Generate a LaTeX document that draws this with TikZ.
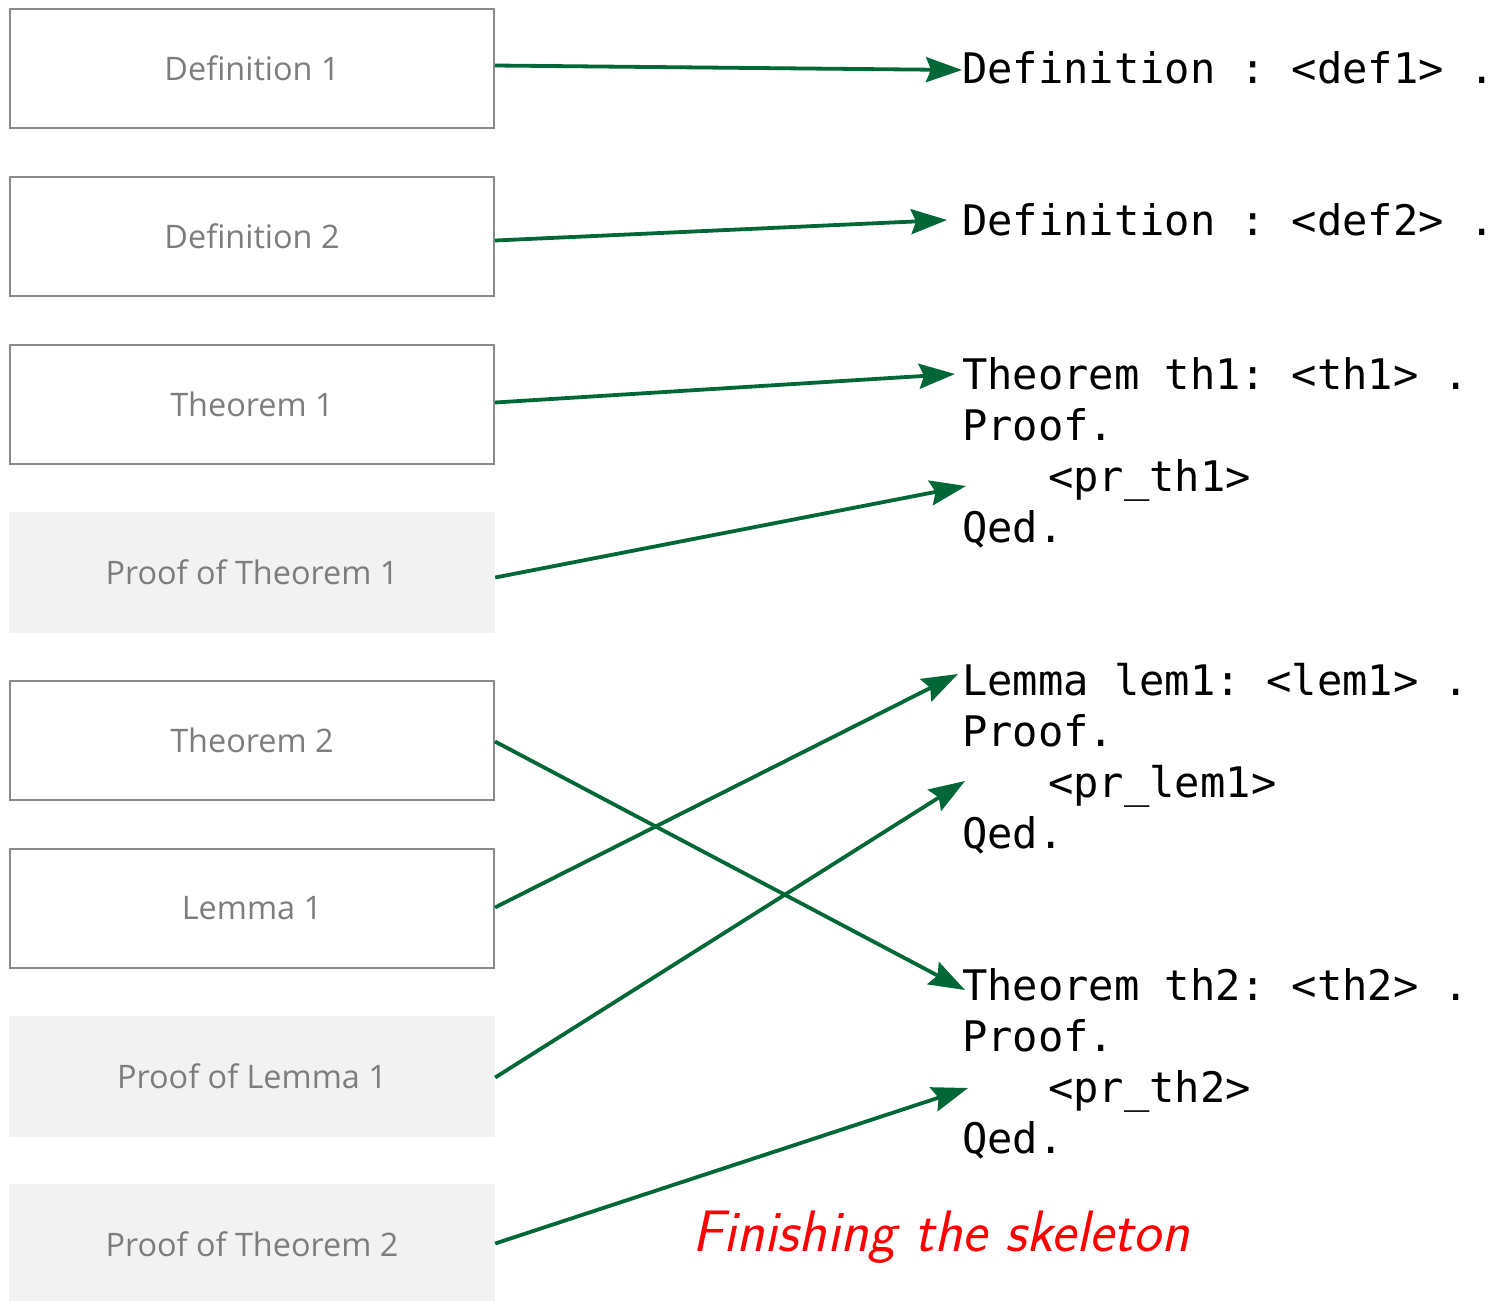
\documentclass[tikz,border=0pt]{standalone}
\usepackage{fontspec}
\setmonofont{DejaVu Sans Mono}
\newfontfamily\boxfont{Open Sans}
\usetikzlibrary{arrows.meta}
\definecolor{arrgreen}{RGB}{0,104,55}
\definecolor{boxgray}{RGB}{138,138,138}
\definecolor{lblgray}{RGB}{125,125,125}
\definecolor{fillgray}{RGB}{242,242,242}
\begin{document}
\begin{tikzpicture}[x=1pt,y=-1pt,
  blk/.style={draw=boxgray,line width=2pt,fill=white,minimum width=484pt,minimum height=119pt,inner sep=0pt,
    font=\boxfont\fontsize{32.4}{38}\selectfont,text=lblgray},
  pfblk/.style={fill=fillgray,minimum width=486pt,minimum height=121pt,inner sep=0pt,
    font=\boxfont\fontsize{32.4}{38}\selectfont,text=lblgray},
  code/.style={anchor=base west,inner sep=0pt,font=\ttfamily\fontsize{42.1}{51}\selectfont},
  arr/.style={draw=arrgreen,line width=3.8pt,-{Stealth[length=36pt,width=25pt,inset=5pt]}}]
\useasboundingbox (0,0) rectangle (1494,1301);
\fill[white] (0,0) rectangle (1494,1301);
% left boxes
\node[blk]   (b1) at (252,68.5)   {Definition 1};
\node[blk]   (b2) at (252,236.5)  {Definition 2};
\node[blk]   (b3) at (252,404.5)  {Theorem 1};
\node[pfblk] (b4) at (252,572.5)  {Proof of Theorem 1};
\node[blk]   (b5) at (252,740.5)  {Theorem 2};
\node[blk]   (b6) at (252,908.5)  {Lemma 1};
\node[pfblk] (b7) at (252,1076.5) {Proof of Lemma 1};
\node[pfblk] (b8) at (252,1244.5) {Proof of Theorem 2};
% code text
\node[code] (d1) at (962,83) {Definition : <def1> .};
\node[code] (d2) at (962,235) {Definition : <def2> .};
\node[code] (t1) at (962,389) {Theorem th1: <th1> .};
\node[code] (t1p) at (962,440) {Proof.};
\node[code] (t1b) at (962,491) {\phantom{xxx}\hspace*{10pt}<pr\_th1>};
\node[code] (t1q) at (962,542) {Qed.};
\node[code] (l1) at (962,695) {Lemma lem1: <lem1> .};
\node[code] (l1p) at (962,746) {Proof.};
\node[code] (l1b) at (962,797) {\phantom{xxx}\hspace*{10pt}<pr\_lem1>};
\node[code] (l1q) at (962,848) {Qed.};
\node[code] (t2) at (962,1000) {Theorem th2: <th2> .};
\node[code] (t2p) at (962,1051) {Proof.};
\node[code] (t2b) at (962,1102) {\phantom{xxx}\hspace*{10pt}<pr\_th2>};
\node[code] (t2q) at (962,1153) {Qed.};
% caption
\node[anchor=base west,inner sep=0pt,text=red,font=\sffamily\itshape\fontsize{58.5}{64}\selectfont] (cap) at (692,1251) {Finishing the skeleton};
% arrows
\draw[arr] ([shift={(0,-3)}]b1.east) -- ([shift={(0,-13)}]d1.base west);
\draw[arr] ([shift={(0,4)}]b2.east) -- ([shift={(-15,-15)}]d2.base west);
\draw[arr] ([shift={(0,-2)}]b3.east) -- ([shift={(-7,-15)}]t1.base west);
\draw[arr] ([shift={(0,5)}]b4.east) -- ([shift={(4,-5)}]t1b.base west);
\draw[arr] ([shift={(0,1)}]b5.east) -- ([shift={(3,-10)}]t2.base west);
\draw[arr] ([shift={(0,-1)}]b6.east) -- ([shift={(-4,-21)}]l1.base west);
\draw[arr] ([shift={(0,1)}]b7.east) -- ([shift={(3,-16)}]l1b.base west);
\draw[arr] ([shift={(0,-1)}]b8.east) -- ([shift={(6,-14)}]t2b.base west);
\end{tikzpicture}
\end{document}
